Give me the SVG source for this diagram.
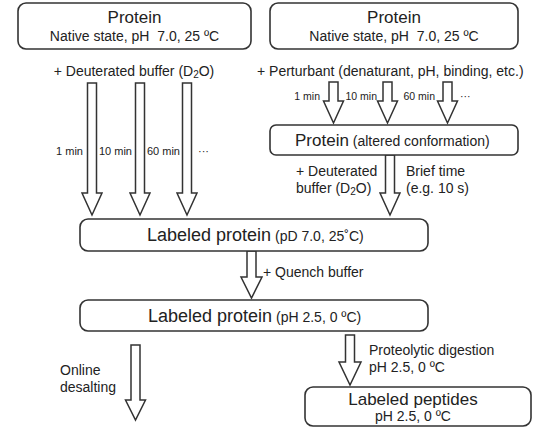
<svg xmlns="http://www.w3.org/2000/svg" width="546" height="429" viewBox="0 0 546 429">
<style>
text{font-family:"Liberation Sans",Arial,sans-serif;fill:#222;white-space:pre}
.box{fill:#fff;stroke:#333;stroke-width:1.6}
.arr{fill:#fff;stroke:#333;stroke-width:1.5;stroke-linejoin:miter}
.t{font-size:17px}
.s{font-size:14px}
.m{font-size:17px}
.l{font-size:18px}
.x{font-size:11px}
.y{font-size:10.5px}
</style>
<rect width="546" height="429" fill="#fff"/>
<g id="connectors">
<polygon class="arr" points="87.5,83 96.5,83 96.5,193 102,193 92,215 82,193 87.5,193"/>
<polygon class="arr" points="135.5,83 144.5,83 144.5,193 150,193 140,215 130,193 135.5,193"/>
<polygon class="arr" points="182.5,83 191.5,83 191.5,193 197,193 187,215 177,193 182.5,193"/>
<polygon class="arr" points="329,82 338,82 338,101 343.5,101 333.5,123 323.5,101 329,101"/>
<polygon class="arr" points="383,82 392,82 392,101 397.5,101 387.5,123 377.5,101 383,101"/>
<polygon class="arr" points="443,82 452,82 452,101 457.5,101 447.5,123 437.5,101 443,101"/>
<polygon class="arr" points="385.5,155 394.5,155 394.5,193 400,193 390,215 380,193 385.5,193"/>
<polygon class="arr" points="247,251 256,251 256,277 262,277 251.5,298 241,277 247,277"/>
<polygon class="arr" points="131,345 140,345 140,400 145.5,400 135.5,420 125.5,400 131,400"/>
<polygon class="arr" points="345.5,335 354.5,335 354.5,362 361,362 350,385 339,362 345.5,362"/>
</g>
<g id="n1">
<rect class="box" x="18" y="3" width="233" height="46" rx="8"/>
<text class="t" x="134.5" y="23" text-anchor="middle">Protein</text>
<text class="s" x="134.5" y="41" text-anchor="middle">Native state, pH  7.0, 25 ºC</text>
</g>
<g id="n2">
<rect class="box" x="270" y="3" width="248" height="46" rx="8"/>
<text class="t" x="394" y="23" text-anchor="middle">Protein</text>
<text class="s" x="394" y="41" text-anchor="middle">Native state, pH  7.0, 25 ºC</text>
</g>
<g id="labels">
<text class="s" x="134" y="76" text-anchor="middle">+ Deuterated buffer (D<tspan font-size="10" dy="2">2</tspan><tspan dy="-2">O)</tspan></text>
<text class="s" x="257" y="76">+ Perturbant (denaturant, pH, binding, etc.)</text>
<text class="x" x="83" y="155" text-anchor="end">1 min</text>
<text class="x" x="132" y="155" text-anchor="end">10 min</text>
<text class="x" x="180" y="155" text-anchor="end">60 min</text>
<text class="x" x="198" y="155">···</text>
<text class="y" x="320" y="100" text-anchor="end">1 min</text>
<text class="y" x="377" y="100" text-anchor="end">10 min</text>
<text class="y" x="435" y="100" text-anchor="end">60 min</text>
<text class="y" x="460" y="100">···</text>
<text class="s" x="296" y="176">+ Deuterated</text>
<text class="s" x="296" y="193">buffer (D<tspan font-size="10" dy="2">2</tspan><tspan dy="-2">O)</tspan></text>
<text class="s" x="406" y="176">Brief time</text>
<text class="s" x="406" y="193">(e.g. 10 s)</text>
<text class="s" x="263" y="277">+ Quench buffer</text>
<text class="s" x="60" y="375">Online</text>
<text class="s" x="60" y="392">desalting</text>
<text class="s" x="369" y="355">Proteolytic digestion</text>
<text class="s" x="369" y="372">pH 2.5, 0 ºC</text>
</g>
<g id="n3">
<rect class="box" x="270" y="125" width="248" height="30" rx="6"/>
<text x="295" y="146"><tspan class="m">Protein</tspan><tspan class="s"> (altered conformation)</tspan></text>
</g>
<g id="n4">
<rect class="box" x="80" y="219" width="348" height="32" rx="8"/>
<text x="147" y="241"><tspan class="l">Labeled protein</tspan><tspan class="s"> (pD 7.0, 25˚C)</tspan></text>
</g>
<g id="n5">
<rect class="box" x="80" y="300" width="348" height="31" rx="8"/>
<text x="148" y="322"><tspan class="l">Labeled protein</tspan><tspan class="s"> (pH 2.5, 0 ºC)</tspan></text>
</g>
<g id="n6">
<rect class="box" x="305" y="387" width="226" height="39" rx="8"/>
<text class="m" x="413" y="405" text-anchor="middle">Labeled peptides</text>
<text class="s" x="413" y="421" text-anchor="middle">pH 2.5, 0 ºC</text>
</g>
</svg>
